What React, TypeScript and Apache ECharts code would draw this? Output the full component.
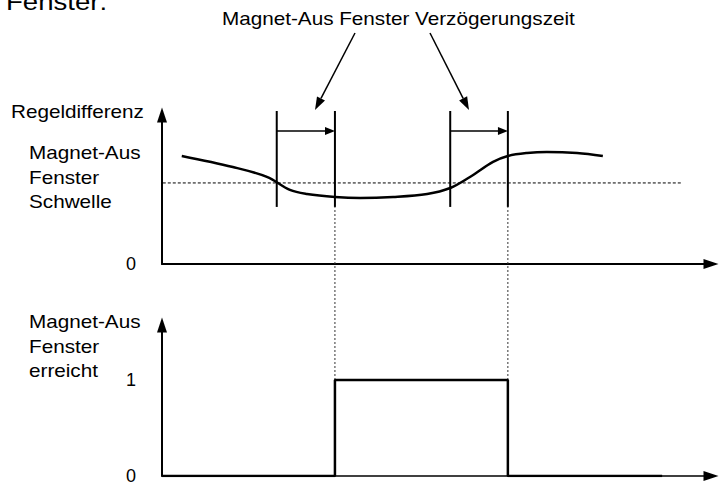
import React, { useEffect, useRef } from 'react';
import * as echarts from 'echarts';

// ---- data ----
const timeMax = 100;
const curveTime = [3.6, 12.9, 19.1, 23.3, 26.4, 31.5, 36.1, 42.1, 48.3, 52.5, 56.1, 60.3, 63.0, 66.5, 70.1, 75.6, 80.3];
const curveValue = [7.25, 6.51, 5.85, 4.97, 4.70, 4.50, 4.43, 4.50, 4.70, 5.10, 5.84, 6.85, 7.25, 7.45, 7.52, 7.45, 7.25];
const thresholdValue = 5.44;
const thresholdFrom = -3.5;
const thresholdTo = 94.7;
const windowStart = [20.9, 52.5];
const windowEnd = [31.5, 63.0];
const markerLow = 3.83;
const markerHigh = 10.27;
const delayArrowLevel = 8.93;
const topMax = 10;
const pulseTime = [0, 31.5, 31.5, 63.0, 63.0, 91.1];
const pulseValue = [0, 0, 1, 1, 0, 0];
const bottomMax = 1.573;
const guideTop = 2.8;
const topTicks = [0];
const bottomTicks = [0, 1];
const titleText = 'Magnet-Aus Fenster Verzögerungszeit';
const topLabels = ['Magnet-Aus', 'Fenster', 'Schwelle'];
const bottomLabels = ['Magnet-Aus', 'Fenster', 'erreicht'];

const FONT = '"Liberation Sans", Arial, Helvetica, sans-serif';
const FS = 18;
const SX = 1.15;

function arrow(from: number[], tip: number[], len: number, halfW: number) {
  const dx = tip[0] - from[0];
  const dy = tip[1] - from[1];
  const L = Math.sqrt(dx * dx + dy * dy);
  const ux = dx / L, uy = dy / L;
  const bx = tip[0] - ux * len, by = tip[1] - uy * len;
  const px = -uy, py = ux;
  return [
    { type: 'line', shape: { x1: from[0], y1: from[1], x2: bx, y2: by }, style: { stroke: '#000', lineWidth: 1.5 } },
    {
      type: 'polygon',
      shape: { points: [[tip[0], tip[1]], [bx + px * halfW, by + py * halfW], [bx - px * halfW, by - py * halfW]] },
      style: { fill: '#000' },
    },
  ];
}

function txt(text: string, x: number, y: number, size = FS, align = 'left') {
  return {
    type: 'text',
    x,
    y,
    scaleX: SX,
    style: {
      text,
      fill: '#000',
      fontSize: size,
      fontFamily: FONT,
      align,
      textAlign: align,
      verticalAlign: 'middle',
      textVerticalAlign: 'middle',
    },
  };
}

export default function App() {
  const ref = useRef<HTMLDivElement>(null);
  useEffect(() => {
    if (!ref.current) return;
    const chart = echarts.init(ref.current, undefined, { renderer: 'svg' });
    const axisCommon = (w: number) => ({
      axisLine: { show: true, onZero: false, symbol: ['none', 'triangle'], symbolSize: [10, 15], lineStyle: { color: '#000', width: w } },
      axisTick: { show: false },
      splitLine: { show: false },
    });
    const series: any[] = [];
    series.push({
      type: 'line',
      xAxisIndex: 0,
      yAxisIndex: 0,
      data: curveTime.map((t, i) => [t, curveValue[i]]),
      smooth: 0.35,
      showSymbol: false,
      lineStyle: { color: '#000', width: 2.5 },
      silent: true,
      markLine: {
        silent: true,
        symbol: ['none', 'triangle'],
        symbolSize: [8, 10],
        label: { show: false },
        lineStyle: { color: '#000', width: 1.5, type: 'solid' },
        data: windowStart.map((s, i) => [
          { coord: [s, delayArrowLevel] },
          { coord: [windowEnd[i] - 0.9, delayArrowLevel] },
        ]),
      },
    });
    series.push({
      type: 'line',
      xAxisIndex: 0,
      yAxisIndex: 0,
      data: [[thresholdFrom, thresholdValue], [thresholdTo, thresholdValue]],
      clip: false,
      showSymbol: false,
      lineStyle: { color: '#000', width: 1, type: [3, 2] },
      silent: true,
    });
    [...windowStart, ...windowEnd].forEach((t) => {
      series.push({
        type: 'line',
        xAxisIndex: 0,
        yAxisIndex: 0,
        data: [[t, markerLow], [t, markerHigh]],
        clip: false,
        showSymbol: false,
        lineStyle: { color: '#000', width: 2 },
        silent: true,
      });
    });
    windowEnd.forEach((t) => {
      series.push({
        type: 'line',
        xAxisIndex: 1,
        yAxisIndex: 1,
        data: [[t, 1], [t, guideTop]],
        clip: false,
        showSymbol: false,
        lineStyle: { color: '#333', width: 1, type: [2, 2] },
        silent: true,
      });
    });
    series.push({
      type: 'line',
      xAxisIndex: 1,
      yAxisIndex: 1,
      data: pulseTime.map((t, i) => [t, pulseValue[i]]),
      showSymbol: false,
      lineStyle: { color: '#000', width: 2.5 },
      silent: true,
      z: 5,
    });

    const graphic: any[] = [
      txt('Fenster:', 6, 2, 24),
      txt(titleText, 222, 19),
      ...arrow([355, 33], [315, 110], 13, 4.5),
      ...arrow([430, 33], [469, 110], 13, 4.5),
      txt('Regeldifferenz', 11, 112),
      ...topLabels.map((s, i) => txt(s, 29, 153 + i * 24.5)),
      ...bottomLabels.map((s, i) => txt(s, 29, 322 + i * 24.2)),
    ];

    chart.setOption({
      animation: false,
      backgroundColor: '#fff',
      grid: [
        { left: 162, right: 9, top: 115, height: 149 },
        { left: 162, right: 9, top: 325, height: 151 },
      ],
      xAxis: [
        { type: 'value', gridIndex: 0, min: 0, max: timeMax, axisLabel: { show: false }, ...axisCommon(2) },
        { type: 'value', gridIndex: 1, min: 0, max: timeMax, axisLabel: { show: false }, ...axisCommon(1.5) },
      ],
      yAxis: [
        {
          type: 'value', gridIndex: 0, min: 0, max: topMax,
          axisLabel: { show: true, customValues: topTicks, color: '#000', fontSize: FS, fontFamily: FONT, margin: 26 },
          ...axisCommon(2),
        },
        {
          type: 'value', gridIndex: 1, min: 0, max: bottomMax,
          axisLabel: { show: true, customValues: bottomTicks, color: '#000', fontSize: FS, fontFamily: FONT, margin: 26 },
          ...axisCommon(2),
        },
      ],
      series,
      graphic,
    });
    return () => chart.dispose();
  }, []);
  return <div ref={ref} style={{ position: 'absolute', left: 0, top: 0, width: 720, height: 503 }} />;
}
